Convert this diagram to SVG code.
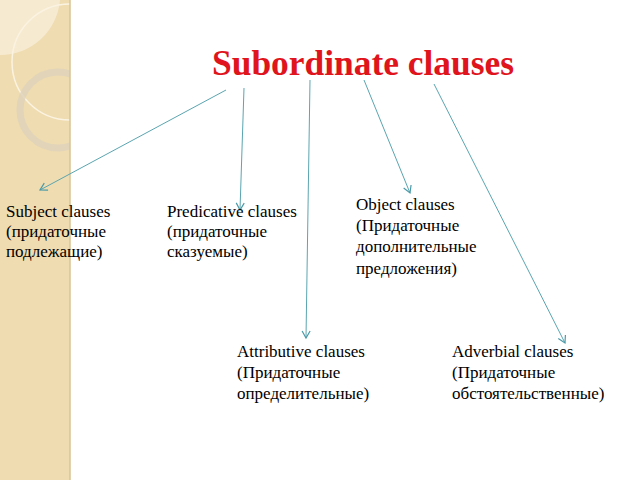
<svg xmlns="http://www.w3.org/2000/svg" width="640" height="480" viewBox="0 0 640 480">
<defs>
<marker id="ah" markerWidth="10" markerHeight="10" refX="8" refY="5" orient="auto" markerUnits="userSpaceOnUse"><path d="M1,1 L8,5 L1,9" fill="none" stroke="#4a9aa8" stroke-width="1.2"/></marker>
<clipPath id="strip"><rect x="0" y="0" width="70" height="480"/></clipPath>
</defs>
<style>
.t{font-family:'Liberation Serif','DejaVu Serif',serif;font-size:17px;fill:#000}
.c{stroke:#5aa5b0;stroke-width:1;fill:none;marker-end:url(#ah)}
</style>
<rect width="640" height="480" fill="#fff"/>
<g id="background">
<rect x="0" y="0" width="70" height="480" fill="#efdcb0"/>
<g clip-path="url(#strip)">
<path d="M0,0 H60 A60,60 0 0 1 0,55 Z" fill="#f6ead0"/>
<circle cx="70" cy="62" r="58" fill="none" stroke="#fbf3e2" stroke-width="1.5"/>
<circle cx="58" cy="110" r="38" fill="none" stroke="#ddd2bc" stroke-width="7" opacity="0.8"/>
</g>
<line x1="70" y1="0" x2="70" y2="480" stroke="#d8c596" stroke-width="1.5"/>
</g>
<g id="title"><text x="363" y="75" text-anchor="middle" textLength="302" lengthAdjust="spacingAndGlyphs" style="font-family:'Liberation Serif','DejaVu Serif',serif;font-size:36px;font-weight:bold;fill:#e0141c">Subordinate clauses</text></g>
<g id="connectors">
<line class="c" x1="226" y1="90" x2="40" y2="190"/>
<line class="c" x1="244" y1="88" x2="240" y2="210"/>
<line class="c" x1="310" y1="80" x2="306" y2="338"/>
<line class="c" x1="364" y1="80" x2="410" y2="193"/>
<line class="c" x1="434" y1="84" x2="565" y2="343"/>
</g>
<g id="subject"><text class="t" x="6" y="217">Subject clauses</text><text class="t" x="6" y="237">(придаточные</text><text class="t" x="6" y="257">подлежащие)</text></g>
<g id="predicative"><text class="t" x="167" y="217">Predicative clauses</text><text class="t" x="167" y="237">(придаточные</text><text class="t" x="167" y="257">сказуемые)</text></g>
<g id="object"><text class="t" x="356" y="210">Object clauses</text><text class="t" x="356" y="231">(Придаточные</text><text class="t" x="356" y="252">дополнительные</text><text class="t" x="356" y="274">предложения)</text></g>
<g id="attributive"><text class="t" x="237" y="357">Attributive clauses</text><text class="t" x="237" y="378">(Придаточные</text><text class="t" x="237" y="399">определительные)</text></g>
<g id="adverbial"><text class="t" x="452" y="357">Adverbial clauses</text><text class="t" x="452" y="378">(Придаточные</text><text class="t" x="452" y="399">обстоятельственные)</text></g>
</svg>
